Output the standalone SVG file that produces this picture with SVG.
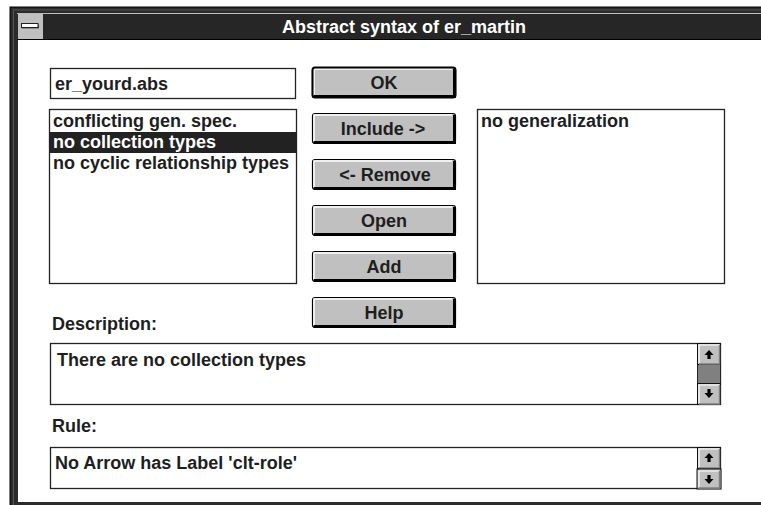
<svg xmlns="http://www.w3.org/2000/svg" width="761" height="505" viewBox="0 0 761 505">
<style>
.t{font-family:"Liberation Sans",Arial,sans-serif;font-weight:bold;font-size:18px;fill:#1e1e1e}
.w{fill:#ffffff}
.c{text-anchor:middle}
.box{fill:#ffffff;stroke:#222;stroke-width:1.3}
</style>
<defs>
<g id="btn">
<rect x="0.5" y="0.5" width="143" height="30" rx="2.5" fill="#c0c0c0" stroke="#000" stroke-width="1.2"/>
<path d="M142.5 2 V29.5 H2" fill="none" stroke="#000" stroke-width="3"/>
<path d="M2 28 V2 H140" fill="none" stroke="#ffffff" stroke-width="1.5"/>
</g>
<g id="sbtn">
<rect x="0.5" y="0.5" width="23" height="21" fill="#c0c0c0" stroke="#111" stroke-width="1"/>
<path d="M2 20 V2 H22" fill="none" stroke="#fff" stroke-width="1.2"/>
<path d="M22.5 2 V21 H2" fill="none" stroke="#808080" stroke-width="1.5"/>
</g>
<g id="up">
<path d="M-4.5 0 L0 -5 L4.5 0 Z" fill="#000"/>
<rect x="-1.6" y="0" width="3.2" height="4" fill="#000"/>
</g>
<g id="down">
<path d="M-4.5 0 L0 5 L4.5 0 Z" fill="#000"/>
<rect x="-1.6" y="-4" width="3.2" height="4" fill="#000"/>
</g>
</defs>
<rect width="761" height="505" fill="#ffffff"/>
<g id="window">
<rect x="10" y="7" width="760" height="505" fill="#2b2b2b" stroke="#000" stroke-width="1"/>
<rect x="18" y="40" width="750" height="462" fill="#ffffff"/>
<line x1="13" y1="10" x2="761" y2="10" stroke="#555" stroke-width="1"/>
<line x1="13.5" y1="10" x2="13.5" y2="505" stroke="#555" stroke-width="1"/>
</g>
<g id="titlebar">
<rect x="43" y="14" width="718" height="25" fill="#262626"/>
<line x1="17" y1="13.5" x2="761" y2="13.5" stroke="#bbbbbb" stroke-width="1"/>
<line x1="17" y1="39.5" x2="761" y2="39.5" stroke="#000" stroke-width="1"/>
<rect x="18" y="14" width="25" height="25" fill="#c0c0c0"/>
<rect x="22" y="24.5" width="17" height="4" fill="#555"/>
<rect x="21.5" y="23.5" width="16.5" height="4" fill="#ffffff" stroke="#222" stroke-width="1"/>
<text class="t w c" x="404" y="33">Abstract syntax of er_martin</text>
</g>
<g id="filename">
<rect class="box" x="50.5" y="68.5" width="245" height="30"/>
<text class="t" x="55" y="90">er_yourd.abs</text>
</g>
<g id="available-list">
<rect class="box" x="49.5" y="109.5" width="247" height="174"/>
<rect x="50" y="132" width="246" height="21" fill="#222"/>
<text class="t" x="53" y="127">conflicting gen. spec.</text>
<text class="t w" x="53" y="148">no collection types</text>
<text class="t" x="53" y="169">no cyclic relationship types</text>
</g>
<g id="btn-ok">
<use href="#btn" x="312" y="67"/>
<rect x="312.5" y="67.5" width="143" height="30" rx="2.5" fill="none" stroke="#000" stroke-width="2"/>
<text class="t c" x="384" y="89">OK</text>
</g>
<g id="btn-include">
<use href="#btn" x="312" y="113"/>
<text class="t c" x="383" y="135">Include -&gt;</text>
</g>
<g id="btn-remove">
<use href="#btn" x="312" y="159"/>
<text class="t c" x="385" y="181">&lt;- Remove</text>
</g>
<g id="btn-open">
<use href="#btn" x="312" y="205"/>
<text class="t c" x="384" y="227">Open</text>
</g>
<g id="btn-add">
<use href="#btn" x="312" y="251"/>
<text class="t c" x="384" y="273">Add</text>
</g>
<g id="btn-help">
<use href="#btn" x="312" y="297"/>
<text class="t c" x="384" y="319">Help</text>
</g>
<g id="selected-list">
<rect class="box" x="477.5" y="109.5" width="247" height="174"/>
<text class="t" x="481" y="127">no generalization</text>
</g>
<g id="description">
<text class="t" x="52" y="330">Description:</text>
<rect class="box" x="50.5" y="343.5" width="670" height="61"/>
<text class="t" x="57" y="366">There are no collection types</text>
<rect x="697" y="343" width="24" height="62" fill="#222"/>
<rect x="698" y="365" width="22" height="18" fill="#808080"/>
<use href="#sbtn" x="697" y="343"/>
<use href="#sbtn" x="697" y="383"/>
<use href="#up" x="709" y="355"/>
<use href="#down" x="709" y="393"/>
</g>
<g id="rule">
<text class="t" x="52" y="432">Rule:</text>
<rect class="box" x="50.5" y="447.5" width="670" height="41"/>
<text class="t" x="55" y="469">No Arrow has Label 'clt-role'</text>
<rect x="697" y="447" width="24" height="42" fill="#222"/>
<use href="#sbtn" x="697" y="447" transform="translate(0,0)"/>
<use href="#up" x="709" y="458"/>
<rect x="697" y="469" width="24" height="20" fill="#c0c0c0" stroke="#111" stroke-width="1"/>
<path d="M699 487 V471 H719" fill="none" stroke="#fff" stroke-width="1.2"/>
<path d="M719.5 471 V488 H699" fill="none" stroke="#808080" stroke-width="1.5"/>
<use href="#down" x="709" y="479"/>
</g>
<g id="connectors"/>
</svg>
